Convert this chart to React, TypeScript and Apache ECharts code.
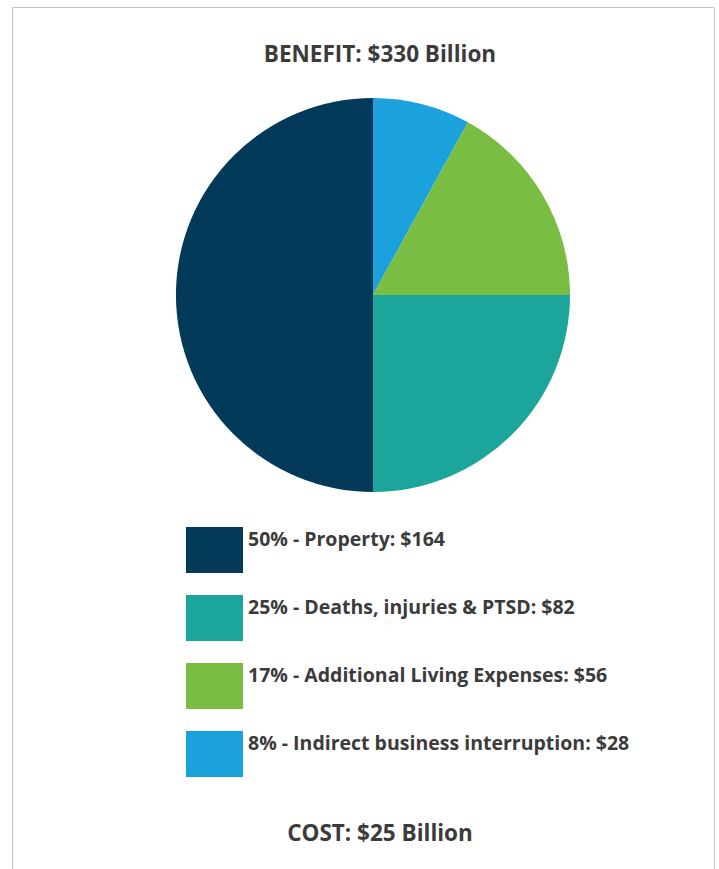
import React, { useEffect, useRef } from "react";
import * as echarts from "echarts";

const categories = [
  "Indirect business interruption",
  "Additional Living Expenses",
  "Deaths, injuries & PTSD",
  "Property",
];
const values = [28, 56, 82, 164];
const percents = [8, 17, 25, 50];
const colors = ["#1ba1dc", "#79bd43", "#1ca59b", "#033a5a"];
const legendOrder = [
  "Property",
  "Deaths, injuries & PTSD",
  "Additional Living Expenses",
  "Indirect business interruption",
];
const titleText = "BENEFIT: $330 Billion";
const costText = "COST: $25 Billion";

export default function App() {
  const ref = useRef<HTMLDivElement>(null);
  useEffect(() => {
    const chart = echarts.init(ref.current!, null, { renderer: "svg" });
    const font = "'Open Sans', sans-serif";
    const headFont = `bold 22.5px ${font}`;
    chart.setOption({
      animation: false,
      backgroundColor: "#ffffff",
      graphic: [
        {
          type: "rect",
          shape: { x: 12.5, y: 7.5, width: 702, height: 900 },
          style: { fill: "none", stroke: "#c4c4c4", lineWidth: 1 },
          silent: true,
        },
        {
          type: "text",
          x: 380,
          y: 53,
          style: {
            text: titleText,
            font: headFont,
            fill: "#3b3b3b",
            textAlign: "center",
            textVerticalAlign: "middle",
          },
        },
        {
          type: "text",
          x: 380,
          y: 832,
          style: {
            text: costText,
            font: headFont,
            fill: "#3b3b3b",
            textAlign: "center",
            textVerticalAlign: "middle",
          },
        },
      ],
      legend: {
        orient: "vertical",
        left: 186,
        top: 527,
        padding: 0,
        itemWidth: 57,
        itemHeight: 46,
        itemGap: 22,
        icon: "rect",
        data: legendOrder,
        formatter: (name: string) => {
          const i = categories.indexOf(name);
          return `${percents[i]}% - ${name}: $${values[i]}\n `;
        },
        textStyle: {
          fontFamily: font,
          fontSize: 19.5,
          lineHeight: 23,
          fontWeight: "bold",
          color: "#3b3b3b",
        },
        selectedMode: false,
      },
      series: [
        {
          type: "pie",
          center: [373, 295],
          radius: 197,
          startAngle: 90,
          clockwise: true,
          label: { show: false },
          labelLine: { show: false },
          emphasis: { disabled: true },
          itemStyle: { borderWidth: 0 },
          data: categories.map((c, i) => ({
            name: c,
            value: percents[i],
            itemStyle: { color: colors[i] },
          })),
        },
      ],
    });
    return () => chart.dispose();
  }, []);
  return (
    <div
      ref={ref}
      style={{ position: "absolute", left: 0, top: 0, width: 719, height: 869 }}
    />
  );
}
